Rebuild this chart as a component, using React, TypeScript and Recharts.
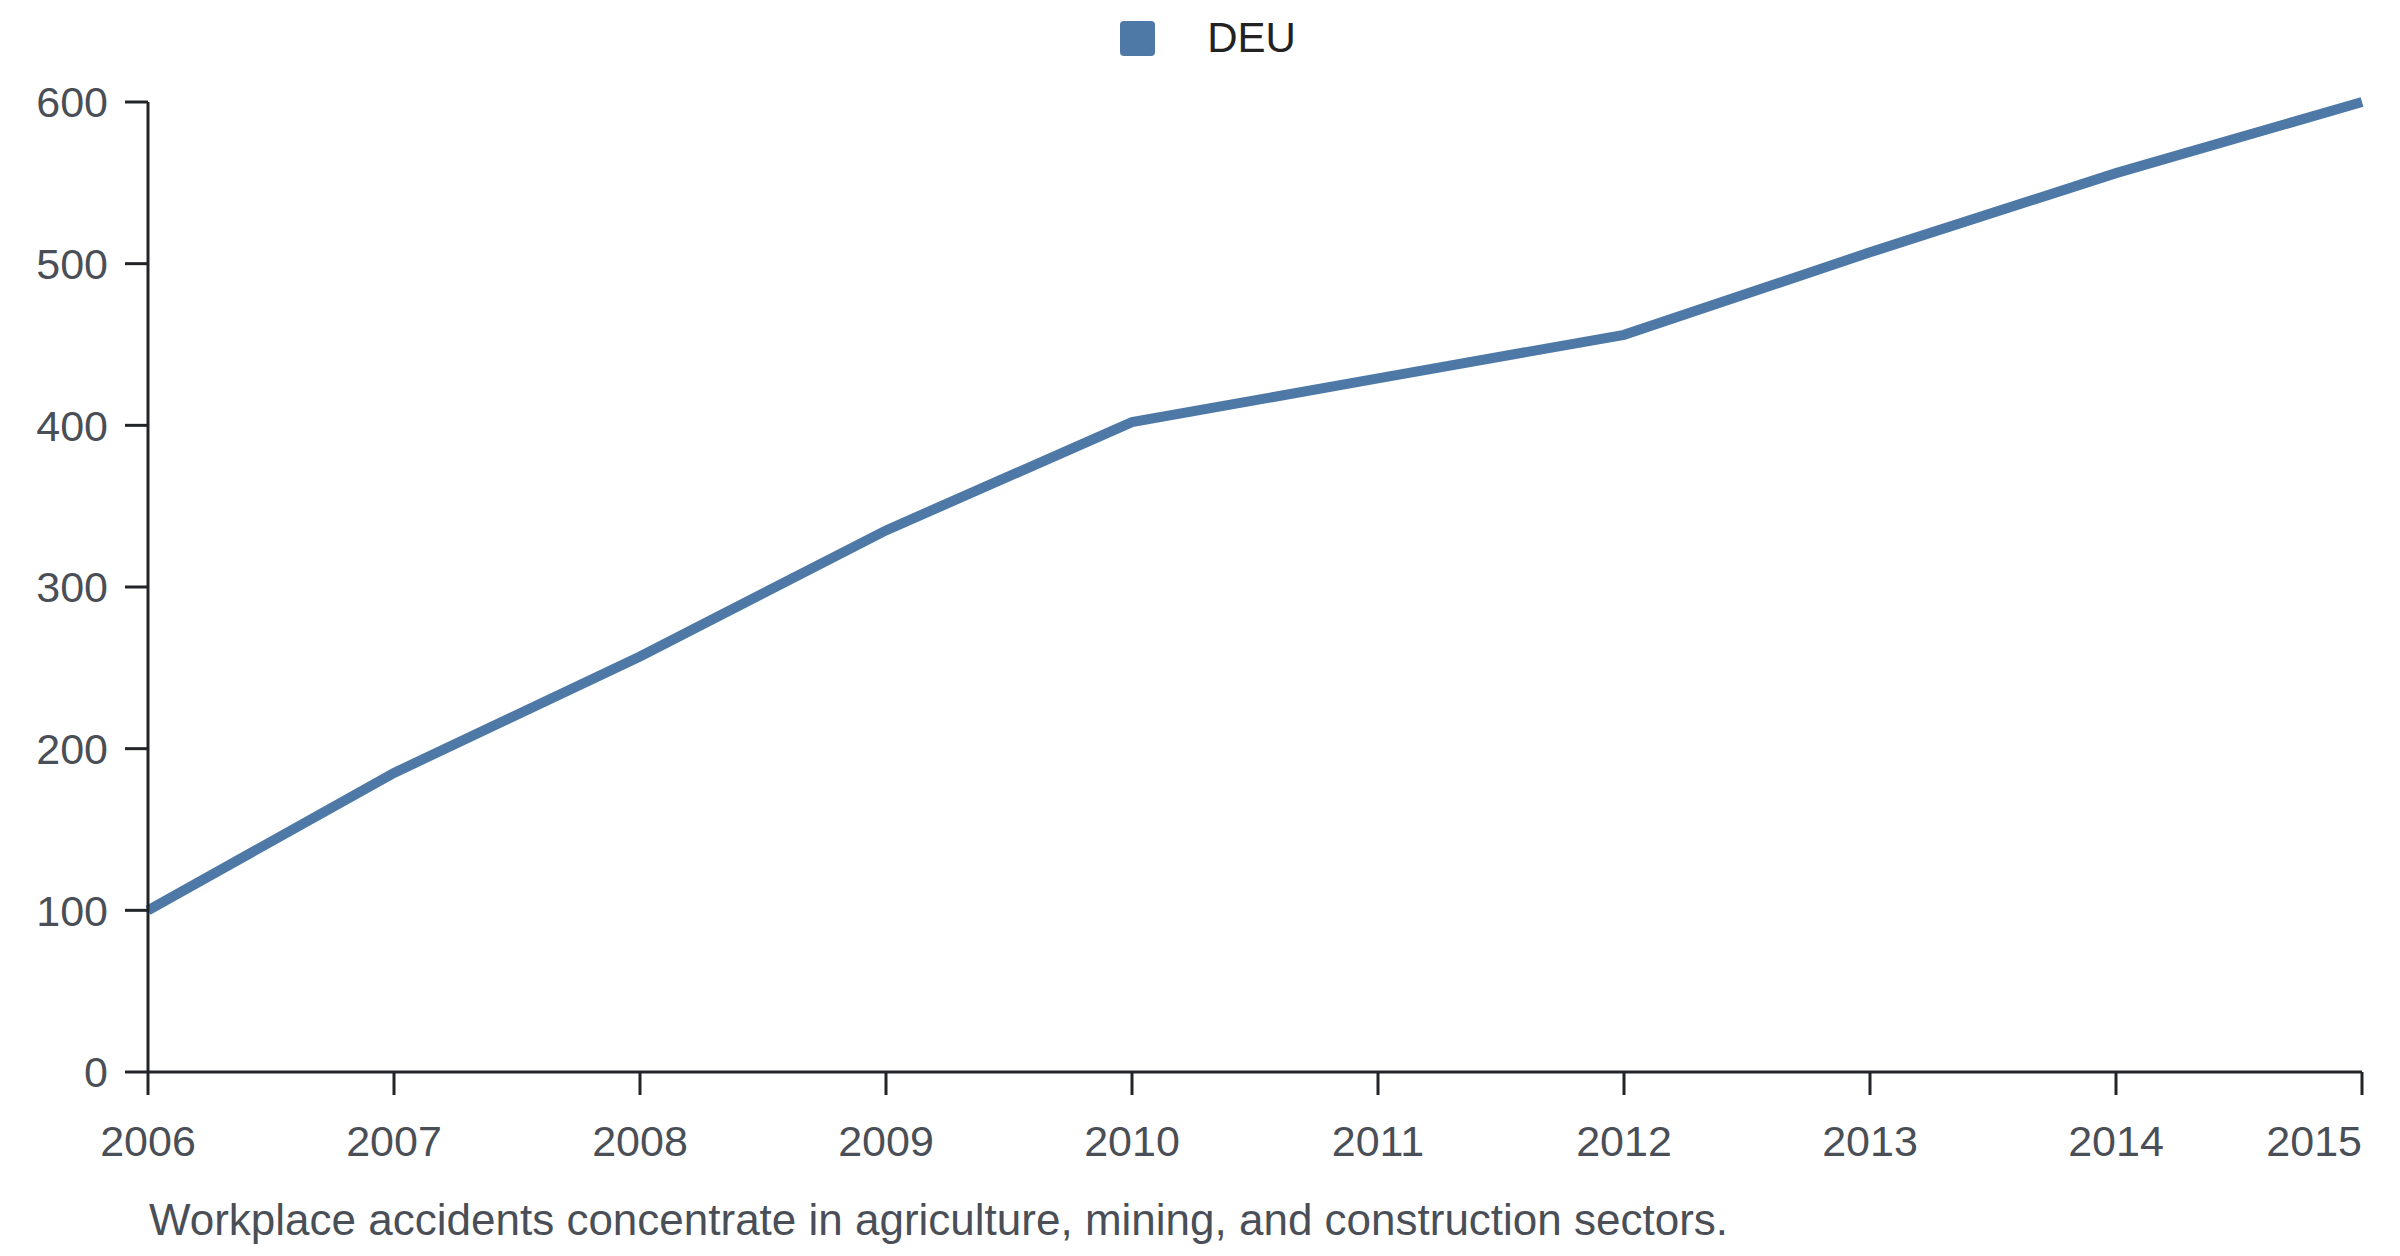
import React from 'react';
import { LineChart, Line, XAxis, YAxis, Legend } from 'recharts';

const years = [2006, 2007, 2008, 2009, 2010, 2011, 2012, 2013, 2014, 2015];
const deu = [100, 185, 257, 335, 402, 429, 456, 507, 556, 600];
const yTicks = [0, 100, 200, 300, 400, 500, 600];
const seriesName = 'DEU';
const caption = 'Workplace accidents concentrate in agriculture, mining, and construction sectors.';

const data = years.map((year, i) => ({ year, DEU: deu[i] }));

const LINE_COLOR = '#4e79a7';
const AXIS_COLOR = '#222428';
const TICK_COLOR = '#4a4f57';
const FONT = '"Liberation Sans", Arial, sans-serif';

const YearTick = (props: any) => {
  const { x, y, payload } = props;
  const last = payload.value === years[years.length - 1];
  return (
    <text
      x={x}
      y={y}
      dy="0.71em"
      textAnchor={last ? 'end' : 'middle'}
      fill={TICK_COLOR}
      fontSize={43}
      fontFamily={FONT}
    >
      {payload.value}
    </text>
  );
};

const LegendBox = () => (
  <div style={{ display: 'flex', alignItems: 'center', justifyContent: 'center', paddingLeft: 16 }}>
    <span
      style={{ width: 35, height: 35, borderRadius: 4, background: LINE_COLOR, display: 'inline-block' }}
    />
    <span style={{ marginLeft: 52, fontSize: 42, color: '#222', fontFamily: FONT, lineHeight: '48px' }}>
      {seriesName}
    </span>
  </div>
);

export default function App() {
  return (
    <div style={{ position: 'relative', width: 2384, height: 1240, fontFamily: FONT }}>
      <LineChart width={2384} height={1180} data={data} margin={{ top: 94, right: 30, bottom: 36, left: 0 }}>
        <Legend
          verticalAlign="middle"
          align="center"
          layout="horizontal"
          content={<LegendBox />}
          wrapperStyle={{ top: 6, left: 0, width: 2384 }}
        />
        <XAxis
          dataKey="year"
          type="number"
          domain={[2006, 2015]}
          ticks={years}
          height={80}
          tickSize={23}
          tickMargin={30}
          axisLine={{ stroke: AXIS_COLOR, strokeWidth: 3 }}
          tickLine={{ stroke: AXIS_COLOR, strokeWidth: 3 }}
          tick={<YearTick />}
          interval={0}
        />
        <YAxis
          type="number"
          domain={[0, 600]}
          ticks={yTicks}
          width={140}
          tickSize={23}
          tickMargin={17}
          axisLine={{ stroke: AXIS_COLOR, strokeWidth: 3 }}
          tickLine={{ stroke: AXIS_COLOR, strokeWidth: 3 }}
          tick={{ fill: TICK_COLOR, fontSize: 43, fontFamily: FONT }}
          interval={0}
        />
        <Line
          type="linear"
          dataKey="DEU"
          name={seriesName}
          stroke={LINE_COLOR}
          strokeWidth={10}
          dot={false}
          activeDot={false}
          isAnimationActive={false}
        />
      </LineChart>
      <div
        style={{
          position: 'absolute',
          left: 141,
          top: 1187,
          fontSize: 44,
          color: TICK_COLOR,
          whiteSpace: 'nowrap',
        }}
      >
        {caption}
      </div>
    </div>
  );
}
